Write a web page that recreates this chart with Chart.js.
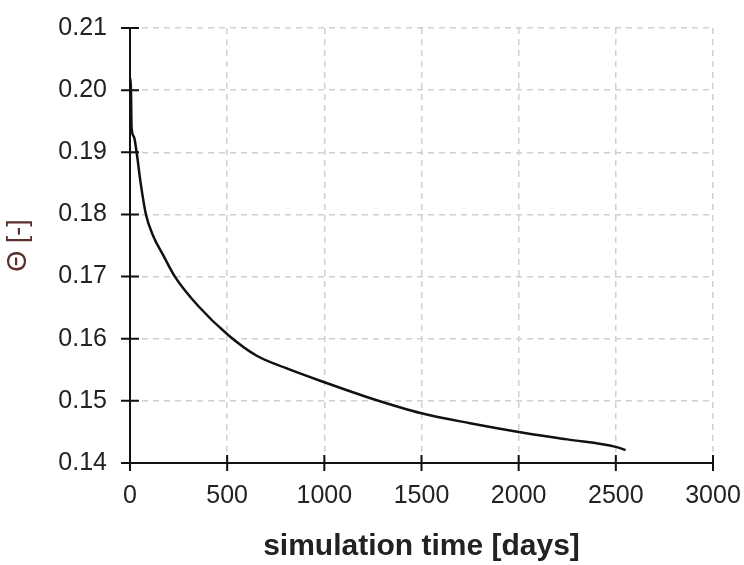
<!DOCTYPE html>
<html>
<head>
<meta charset="utf-8">
<script src="https://cdn.jsdelivr.net/npm/chart.js@4"></script>
<style>
  html, body { margin: 0; padding: 0; background: #fff; }
  #wrap { width: 744px; height: 565px; }
</style>
</head>
<body>
<div id="wrap"><canvas id="thetaChart"></canvas></div>
<script>
"use strict";
// values
const DAYS = [0, 5, 8, 20, 34, 55, 82, 120, 170, 231, 350, 505, 650, 800, 1000, 1250, 1500, 1750, 2000, 2250, 2500, 2550];
const THETA = [0.202, 0.2, 0.194, 0.1925, 0.19, 0.185, 0.18, 0.1765, 0.1735, 0.17, 0.1653, 0.1606, 0.1573, 0.1553, 0.153, 0.1503, 0.148, 0.1464, 0.145, 0.1438, 0.1426, 0.1421];
const X_TICKS = [0, 500, 1000, 1500, 2000, 2500, 3000];
const Y_TICKS = [0.14, 0.15, 0.16, 0.17, 0.18, 0.19, 0.2, 0.21];
const X_TITLE = "simulation time [days]";
const Y_TITLE = "Θ [-]";

const TEXT = "#222";
const GRID = "#d0d0d0";
const FONT = "Liberation Sans, Arial, sans-serif";

// tick marks that cross the axis lines
const crossTicks = {
  id: "crossTicks",
  afterDraw(chart) {
    const ctx = chart.ctx;
    const xs = chart.scales.x;
    const ys = chart.scales.y;
    ctx.save();
    ctx.strokeStyle = "#111";
    ctx.lineWidth = 2;
    ctx.beginPath();
    X_TICKS.forEach((v) => {
      const px = xs.getPixelForValue(v);
      ctx.moveTo(px, ys.bottom - 8);
      ctx.lineTo(px, ys.bottom + 8);
    });
    Y_TICKS.forEach((v) => {
      const py = ys.getPixelForValue(v);
      ctx.moveTo(xs.left - 9, py);
      ctx.lineTo(xs.left + 9, py);
    });
    ctx.stroke();
    ctx.restore();
  },
};

const points = DAYS.map((d, i) => ({ x: d, y: THETA[i] }));

const ctx = document.getElementById("thetaChart").getContext("2d");
const myChart = new Chart(ctx, {
  type: "scatter",
  data: {
    datasets: [
      {
        data: points,
        showLine: true,
        borderColor: "#111",
        borderWidth: 2.5,
        pointRadius: 0,
        cubicInterpolationMode: "monotone",
      },
    ],
  },
  options: {
    responsive: true,
    maintainAspectRatio: false,
    animation: false,
    layout: { padding: { top: 28, right: 31, left: 0, bottom: 0 } },
    plugins: { legend: { display: false }, tooltip: { enabled: false } },
    scales: {
      x: {
        type: "linear",
        min: 0,
        max: 3000,
        afterBuildTicks: (scale) => {
          scale.ticks = X_TICKS.map((v) => ({ value: v }));
        },
        afterFit: (scale) => {
          scale.height = 102;
          scale.paddingLeft = 0;
          scale.paddingRight = 0;
        },
        grid: { color: GRID, lineWidth: 1.5, drawTicks: false },
        border: { display: true, color: "#111", width: 2, dash: [6, 5] },
        ticks: {
          padding: 18,
          color: TEXT,
          font: { family: FONT, size: 25 },
          maxRotation: 0,
          callback: (v) => String(v),
        },
        title: {
          display: true,
          text: X_TITLE,
          color: TEXT,
          font: { family: FONT, size: 30, weight: "bold" },
          padding: { top: 0, bottom: 0 },
        },
      },
      y: {
        type: "linear",
        min: 0.14,
        max: 0.21,
        afterBuildTicks: (scale) => {
          scale.ticks = Y_TICKS.map((v) => ({ value: v }));
        },
        afterFit: (scale) => {
          scale.width = 130;
          scale.paddingTop = 0;
          scale.paddingBottom = 0;
        },
        grid: { color: GRID, lineWidth: 1.5, drawTicks: false },
        border: { display: true, color: "#111", width: 2, dash: [6, 5] },
        ticks: {
          padding: 23,
          color: TEXT,
          font: { family: FONT, size: 25 },
          callback: (v) => v.toFixed(2),
        },
        title: {
          display: true,
          text: Y_TITLE,
          color: "#5c2e2e",
          font: { family: FONT, size: 27 },
          padding: { top: 2, bottom: 0 },
        },
      },
    },
  },
  plugins: [crossTicks],
});
</script>
</body>
</html>
